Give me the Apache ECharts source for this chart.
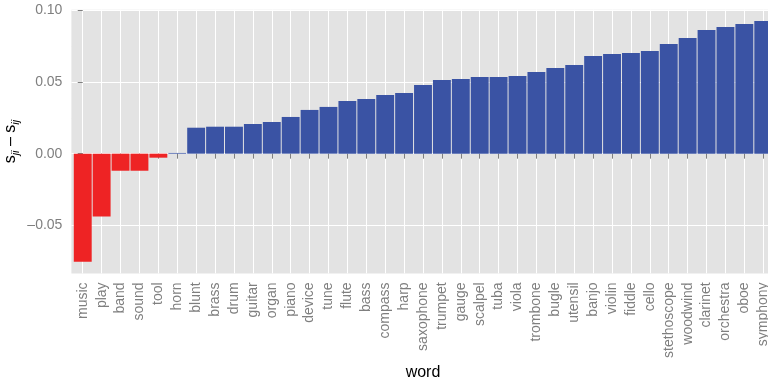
<!DOCTYPE html>
<html>
<head>
<meta charset="utf-8">
<script src="https://cdn.jsdelivr.net/npm/echarts@6/dist/echarts.min.js"></script>
<style>html,body{margin:0;padding:0;background:#fff}#c{width:768px;height:382px}</style>
</head>
<body>
<div id="c"></div>
<script>
const words = ["music","play","band","sound","tool","horn","blunt","brass","drum","guitar","organ","piano","device","tune","flute","bass","compass","harp","saxophone","trumpet","gauge","scalpel","tuba","viola","trombone","bugle","utensil","banjo","violin","fiddle","cello","stethoscope","woodwind","clarinet","orchestra","oboe","symphony"];
const values = [-0.0753,-0.0439,-0.0119,-0.0119,-0.0028,0.0005,0.0181,0.0188,0.0188,0.0207,0.0221,0.0256,0.0305,0.0326,0.0368,0.0381,0.0409,0.0423,0.0479,0.0514,0.0521,0.0535,0.0535,0.0542,0.0570,0.0598,0.0619,0.0681,0.0695,0.0702,0.0716,0.0765,0.0807,0.0863,0.0884,0.0904,0.0925];
const yMajor = [-0.05, 0, 0.05, 0.10];
const yMinor = [-0.075, -0.025, 0.025, 0.075];
const yMin = -0.0835, yMax = 0.1004;

const FONT = '"Liberation Sans", Arial, Helvetica, sans-serif';
const RED = '#EE2324', BLUE = '#3A53A4';
const chart = echarts.init(document.getElementById('c'), null, {renderer: 'canvas'});
const idx = words.map((w, i) => i);
chart.setOption({
  animation: false,
  backgroundColor: '#ffffff',
  grid: {left: 71.4, right: -6.6, top: 9.7, bottom: 108.6, show: true, backgroundColor: '#E3E3E3', borderWidth: 0,
    containLabel: false, outerBoundsMode: 'none'},
  xAxis: {
    type: 'value', min: -0.6, max: 36.6,
    axisLine: {show: false},
    axisTick: {show: true, length: 5, customValues: idx, lineStyle: {color: '#7F7F7F', width: 1}},
    axisLabel: {customValues: idx, rotate: 90, margin: 9, color: '#7F7F7F', fontSize: 14, fontFamily: FONT,
      formatter: v => words[Math.round(v)] || ''},
    splitLine: {show: true, lineStyle: {color: '#FFFFFF', width: 1}},
    name: 'word', nameLocation: 'middle', nameGap: 91, nameMoveOverlap: false,
    nameTextStyle: {color: '#000', fontSize: 16, fontFamily: FONT}
  },
  yAxis: [{
    type: 'value', min: yMin, max: yMax,
    axisLine: {show: false},
    axisTick: {show: true, length: 5, customValues: yMajor, lineStyle: {color: '#7F7F7F', width: 1}},
    axisLabel: {customValues: yMajor, margin: 9, color: '#7F7F7F', fontSize: 14, fontFamily: FONT,
      formatter: v => (v < 0 ? '\u2013' : '') + Math.abs(v).toFixed(2)},
    splitLine: {show: true, lineStyle: {color: '#FFFFFF', width: 1.1}},
    name: '{s|s}{sub|ji}{s| \u2013 s}{sub|ij}', nameLocation: 'middle', nameGap: 50, nameMoveOverlap: false,
    nameTextStyle: {color: '#000', fontFamily: FONT,
      rich: {
        s: {fontSize: 16, fontFamily: FONT, color: '#000', lineHeight: 22, verticalAlign: 'middle'},
        sub: {fontSize: 11, fontStyle: 'italic', fontFamily: FONT, color: '#000', lineHeight: 22, verticalAlign: 'bottom', padding: [6, 0, 0, 0]}
      }}
  }, {
    type: 'value', min: yMin, max: yMax, position: 'left',
    axisLine: {show: false},
    axisTick: {show: false, customValues: yMinor},
    axisLabel: {show: false, customValues: yMinor},
    splitLine: {show: true, lineStyle: {color: '#F0F0F0', width: 0.6}},
    z: -1
  }],
  series: [{
    type: 'bar',
    xAxisIndex: 0, yAxisIndex: 0,
    barWidth: 17.9,
    data: values.map((v, i) => [i, v]),
    itemStyle: {color: p => p.value[1] < 0 ? RED : BLUE},
    z: 5
  }]
});
</script>
</body>
</html>
